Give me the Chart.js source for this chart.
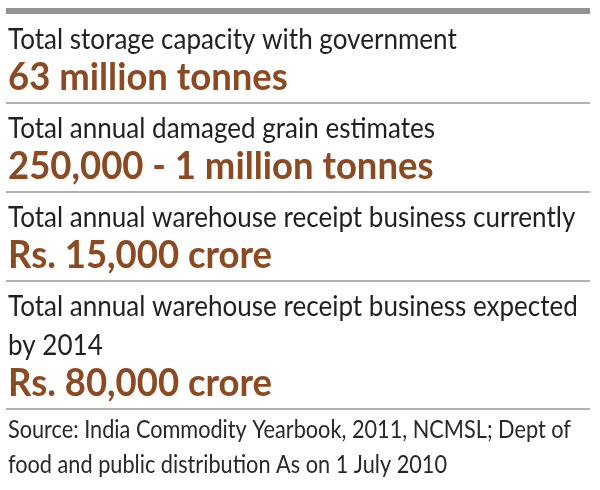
<!DOCTYPE html>
<html>
<head>
<meta charset="utf-8">
<script src="https://cdn.jsdelivr.net/npm/chart.js@4.4.1/dist/chart.umd.min.js"></script>
<style>
  html, body { margin: 0; padding: 0; background: #ffffff; }
  #wrap { width: 600px; height: 490px; }
</style>
</head>
<body>
<div id="wrap"><canvas id="factChart" width="600" height="490"></canvas></div>
<script>
// Fact labels (each entry may run over more than one line)
var factLabels = [
    ['Total storage capacity with government'],
    ['Total annual damaged grain estimates'],
    ['Total annual warehouse receipt business currently'],
    ['Total annual warehouse receipt business expected', 'by 2014']
];
// Headline figure for each fact
var factValues = [
    '63 million tonnes',
    '250,000 - 1 million tonnes',
    'Rs. 15,000 crore',
    'Rs. 80,000 crore'
];
var sourceLines = [
    'Source: India Commodity Yearbook, 2011, NCMSL; Dept of',
    'food and public distribution As on 1 July 2010'
];

var style = {
    left: 8,
    ruleLeft: 6,
    ruleRight: 590,
    label: { font: '28px Lato', condense: 0.93, color: '#231f20' },
    value: { font: 'bold 38px Lato', condense: 0.96, color: '#8c4a22' },
    source: { font: '25px Lato', condense: 0.868, color: '#2b2728' },
    ruleColor: '#b0b0b0',
    barColor: '#939393'
};

// Draws the list of facts on the chart canvas
var factListPlugin = {
    id: 'factList',
    afterDraw: function(chart) {
        var ctx = chart.ctx;
        ctx.save();
        // Thick grey bar along the top
        ctx.fillStyle = style.barColor;
        ctx.fillRect(style.ruleLeft, 8, style.ruleRight - style.ruleLeft, 6);

        var y = 14;
        factLabels.forEach((lines, i) => {
            y += 35;
            lines.forEach((line, j) => {
                if (j > 0) y += 39;
                drawText(ctx, line, style.label, y);
            });
            y += 41;
            drawText(ctx, factValues[i], style.value, y);
            y += 13;
            drawRule(ctx, y);
        });
        y += 29;
        sourceLines.forEach((line, j) => {
            if (j > 0) y += 35;
            drawText(ctx, line, style.source, y);
        });
        ctx.restore();
    }
};

function drawText(ctx, text, s, y) {
    ctx.save();
    ctx.font = s.font;
    ctx.fillStyle = s.color;
    ctx.textBaseline = 'alphabetic';
    ctx.translate(style.left, y);
    ctx.scale(s.condense, 1);
    ctx.fillText(text, 0, 0);
    ctx.restore();
}

function drawRule(ctx, y) {
    ctx.strokeStyle = style.ruleColor;
    ctx.lineWidth = 2;
    ctx.beginPath();
    ctx.moveTo(style.ruleLeft, y);
    ctx.lineTo(style.ruleRight, y);
    ctx.stroke();
}

document.fonts.load('28px Lato').then(() => document.fonts.load('bold 38px Lato')).then(() => {
    var ctx = document.getElementById('factChart').getContext('2d');
    new Chart(ctx, {
        type: 'bar',
        data: {
            labels: factValues,
            datasets: []
        },
        options: {
            responsive: false,
            animation: false,
            layout: { padding: 0 },
            scales: {
                x: { display: false },
                y: { display: false }
            },
            plugins: {
                legend: { display: false },
                tooltip: { enabled: false }
            }
        },
        plugins: [factListPlugin]
    });
});
</script>
</body>
</html>
